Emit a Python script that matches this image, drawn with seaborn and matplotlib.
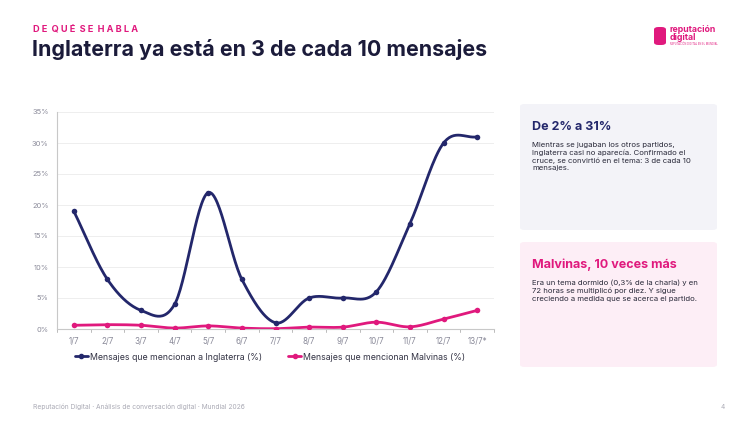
import numpy as np
import pandas as pd
import matplotlib
matplotlib.use("Agg")
import matplotlib.pyplot as plt
import seaborn as sns
from matplotlib.patches import FancyBboxPatch
from matplotlib.lines import Line2D

# ---------------- data ----------------
dates = ["1/7", "2/7", "3/7", "4/7", "5/7", "6/7", "7/7", "8/7", "9/7", "10/7", "11/7", "12/7", "13/7*"]
inglaterra = [19, 8, 3, 4, 22, 8, 1, 5, 5, 6, 17, 30, 31]
malvinas = [0.6, 0.7, 0.6, 0.15, 0.5, 0.15, 0.05, 0.3, 0.3, 1.1, 0.35, 1.6, 3.0]
yticks = [0, 5, 10, 15, 20, 25, 30, 35]
series_names = ["Mensajes que mencionan a Inglaterra (%)", "Mensajes que mencionan Malvinas (%)"]

NAVY = "#23276b"
PINK = "#e0197d"
DARK = "#1b1b3a"
GRAY = "#8a8a99"

sns.set_theme(style="white")
plt.rcParams["font.family"] = ["Inter", "DejaVu Sans"]

fig = plt.figure(figsize=(7.5, 4.22), dpi=100)
fig.patch.set_facecolor("white")

def px(x, y):
    return x / 750, 1 - y / 422

ax = fig.add_axes([57 / 750, 1 - 329 / 422, (494 - 57) / 750, (329 - 112) / 422])


def smooth(xs, ys, n=30):
    # Catmull-Rom style smoothing through the data points (rendering only)
    xs = np.asarray(xs, float)
    ys = np.asarray(ys, float)
    px_ = np.concatenate([[xs[0]], xs, [xs[-1]]])
    py_ = np.concatenate([[ys[0]], ys, [ys[-1]]])
    ox, oy = [], []
    for i in range(1, len(px_) - 2):
        p0, p1, p2, p3 = py_[i - 1], py_[i], py_[i + 1], py_[i + 2]
        x1, x2 = px_[i], px_[i + 1]
        t = np.linspace(0, 1, n, endpoint=False)
        m1 = (p2 - p0) / 2 if i > 1 else (p2 - p1)
        m2 = (p3 - p1) / 2 if i < len(px_) - 3 else (p2 - p1)
        h00 = 2 * t**3 - 3 * t**2 + 1
        h10 = t**3 - 2 * t**2 + t
        h01 = -2 * t**3 + 3 * t**2
        h11 = t**3 - t**2
        ox.extend(x1 + (x2 - x1) * t)
        oy.extend(h00 * p1 + h10 * m1 + h01 * p2 + h11 * m2)
    ox.append(xs[-1]); oy.append(ys[-1])
    return np.array(ox), np.array(oy)

xpos = np.arange(len(dates))
for vals, col, name in [(inglaterra, NAVY, series_names[0]), (malvinas, PINK, series_names[1])]:
    sx, sy = smooth(xpos, vals)
    sns.lineplot(x=sx, y=sy, ax=ax, color=col, lw=2.0, sort=False)
    sns.scatterplot(x=xpos, y=vals, ax=ax, color=col, s=16, edgecolor=col, linewidth=0, zorder=5)

ax.set_xlim(-0.5, len(dates) - 0.5)
ax.set_ylim(0, 35)
ax.set_yticks(yticks)
ax.set_yticklabels([f"{v}%" for v in yticks], fontsize=5.4, color=GRAY)
ax.set_xticks(xpos)
ax.set_xticklabels(dates, fontsize=5.8, color=GRAY)
ax.tick_params(axis="x", length=0, pad=6)
ax.tick_params(axis="y", length=0, pad=6)
for b in np.arange(-0.5, len(dates), 1.0):
    ax.plot([b, b], [0, -0.5], color="#bbbbbb", lw=0.7, clip_on=False)
ax.grid(axis="y", color="#eeeeee", lw=0.7)
ax.set_axisbelow(True)
for s in ["top", "right"]:
    ax.spines[s].set_visible(False)
for s in ["left", "bottom"]:
    ax.spines[s].set_color("#c8c8c8")
    ax.spines[s].set_linewidth(0.8)

# legend
handles = [Line2D([0], [0], color=NAVY, lw=2, marker="o", ms=3),
           Line2D([0], [0], color=PINK, lw=2, marker="o", ms=3)]
leg = fig.legend(handles, series_names, loc="center", bbox_to_anchor=(*px(270, 357),),
                 ncol=2, frameon=False, fontsize=6.3, handlelength=1.5, handletextpad=0.2,
                 columnspacing=3)
for t in leg.get_texts():
    t.set_color("#333344")

# header
fig.text(*px(33, 30), "D E  Q U É  S E  H A B L A", fontsize=6.6, color=PINK, weight="bold", va="center")
fig.text(*px(32, 50), "Inglaterra ya está en 3 de cada 10 mensajes", fontsize=15.4, color=DARK,
         weight="bold", va="center")

# logo
fig.patches.append(FancyBboxPatch(px(654, 45), 12 / 750, 18 / 422, boxstyle="round,pad=0,rounding_size=0.006",
                                  transform=fig.transFigure, facecolor=PINK, edgecolor="none"))
fig.text(*px(670, 29), "reputación", fontsize=6.3, color=PINK, weight="bold", va="center")
fig.text(*px(670, 37), "digital", fontsize=6.3, color=PINK, weight="bold", va="center")
fig.text(*px(670, 44), "REPUTACIÓN DIGITAL EN EL MUNDIAL", fontsize=1.8, color=PINK, va="center")

# cards
def card(y0, y1, bg, title, tcol, body):
    fig.patches.append(FancyBboxPatch(px(520, y1), (717 - 520) / 750, (y1 - y0) / 422,
                                      boxstyle="round,pad=0,rounding_size=0.006",
                                      transform=fig.transFigure, facecolor=bg, edgecolor="none"))
    fig.text(*px(532, y0 + 23), title, fontsize=9, color=tcol, weight="bold", va="center")
    fig.text(*px(532, y0 + 38), body, fontsize=5.6, color="#2a2a3a", va="top", linespacing=1.25)

card(104, 230, "#f3f3f8", "De 2% a 31%", NAVY,
     "Mientras se jugaban los otros partidos,\nInglaterra casi no aparecía. Confirmado el\ncruce, se convirtió en el tema: 3 de cada 10\nmensajes.")
card(242, 367, "#fdeef6", "Malvinas, 10 veces más", PINK,
     "Era un tema dormido (0,3% de la charla) y en\n72 horas se multiplicó por diez. Y sigue\ncreciendo a medida que se acerca el partido.")

# footer
fig.text(*px(33, 407), "Reputación Digital · Análisis de conversación digital · Mundial 2026", fontsize=4.8,
         color="#aaaab5", va="center")
fig.text(*px(725, 407), "4", fontsize=4.8, color="#aaaab5", va="center", ha="right")

fig.savefig("out.png", dpi=100, facecolor="white")
